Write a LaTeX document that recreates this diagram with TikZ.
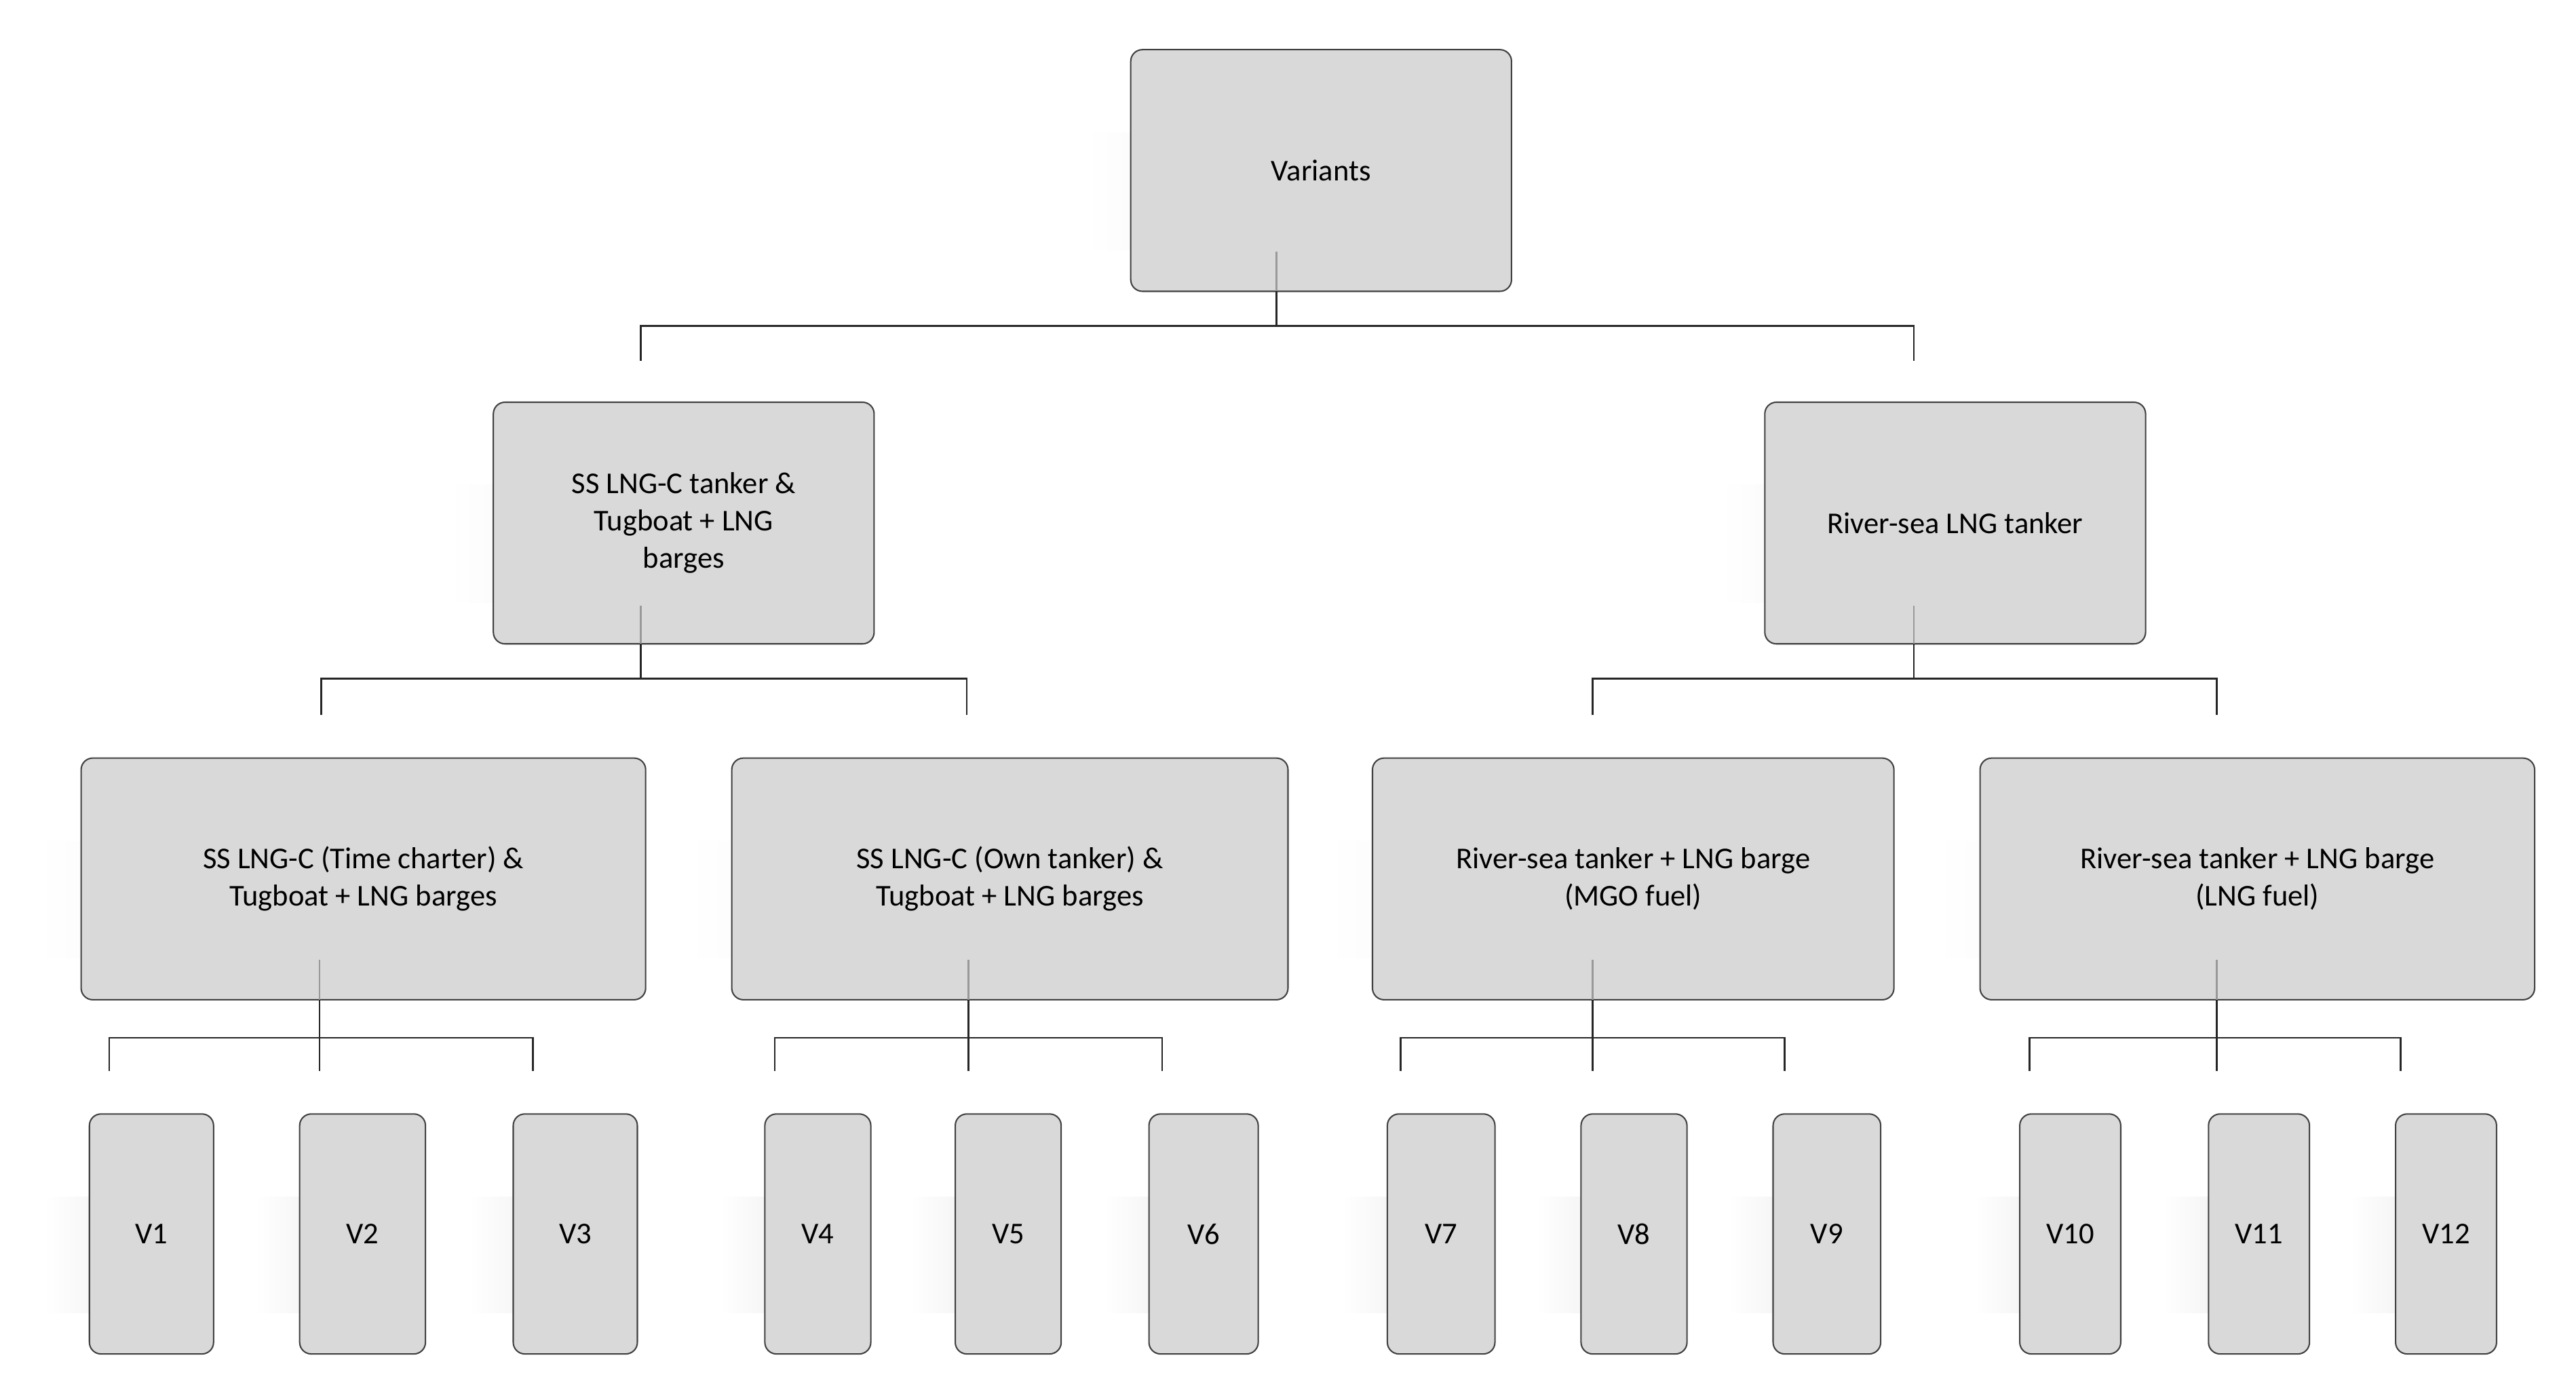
\documentclass[tikz,border=0pt]{standalone}
\usepackage{fontspec}
\setmainfont{Carlito}
\begin{document}
\begin{tikzpicture}[x=0.05cm,y=-0.05cm,
  box/.style={draw=black!75,line width=1.2pt,fill=black!15,rounded corners=10pt,align=center,font=\fontsize{26}{32}\selectfont},
  ln/.style={line width=1.6pt,black!85}]
\useasboundingbox (0,0) rectangle (1556,834);
\newcommand{\mybox}[6]{%
  \shade[left color=white,right color=black!12] (#2-27,#3+50) rectangle (#4,#5-25);
  \node[box,minimum width={(#4-#2)*0.05cm},minimum height={(#5-#3)*0.05cm}] (#1) at ({(#2+#4)/2},{(#3+#5)/2}) {#6};}
\mybox{root}{683}{30}{913}{176}{Variants}
\mybox{a}{298}{243}{528}{389}{SS LNG-C tanker \&\\Tugboat + LNG\\barges}
\mybox{b}{1066}{243}{1296}{389}{River-sea LNG tanker}
\mybox{c1}{49}{458}{390}{604}{SS LNG-C (Time charter) \&\\Tugboat + LNG barges}
\mybox{c2}{442}{458}{778}{604}{SS LNG-C (Own tanker) \&\\Tugboat + LNG barges}
\mybox{c3}{829}{458}{1144}{604}{River-sea tanker + LNG barge\\(MGO fuel)}
\mybox{c4}{1196}{458}{1531}{604}{River-sea tanker + LNG barge\\(LNG fuel)}
\mybox{v1}{54}{673}{129}{818}{V1}
\mybox{v2}{181}{673}{257}{818}{V2}
\mybox{v3}{310}{673}{385}{818}{V3}
\mybox{v4}{462}{673}{526}{818}{V4}
\mybox{v5}{577}{673}{641}{818}{V5}
\mybox{v6}{694}{673}{760}{818}{V6}
\mybox{v7}{838}{673}{903}{818}{V7}
\mybox{v8}{955}{673}{1019}{818}{V8}
\mybox{v9}{1071}{673}{1136}{818}{V9}
\mybox{v10}{1220}{673}{1281}{818}{V10}
\mybox{v11}{1334}{673}{1395}{818}{V11}
\mybox{v12}{1447}{673}{1508}{818}{V12}
% connectors
\coordinate (r0) at (771,152); \coordinate (r1) at (771,197);
\draw[ln,black!40] (r0) -- (771,176);
\draw[ln] (771,176) -- (r1);
\draw[ln] (387,218) -- (387,197) -- (1156,197) -- (1156,218);
\foreach \x/\l/\r in {387/194/584,1156/962/1339}{
  \draw[ln,black!40] (\x,366) -- (\x,389);
  \draw[ln] (\x,389) -- (\x,410);
  \draw[ln] (\l,432) -- (\l,410) -- (\r,410) -- (\r,432);}
\foreach \x/\l/\r in {193/66/322,585/468/702,962/846/1078,1339/1226/1450}{
  \draw[ln,black!40] (\x,580) -- (\x,604);
  \draw[ln] (\x,604) -- (\x,647);
  \draw[ln] (\l,647) -- (\l,627) -- (\r,627) -- (\r,647);}
\end{tikzpicture}
\end{document}
